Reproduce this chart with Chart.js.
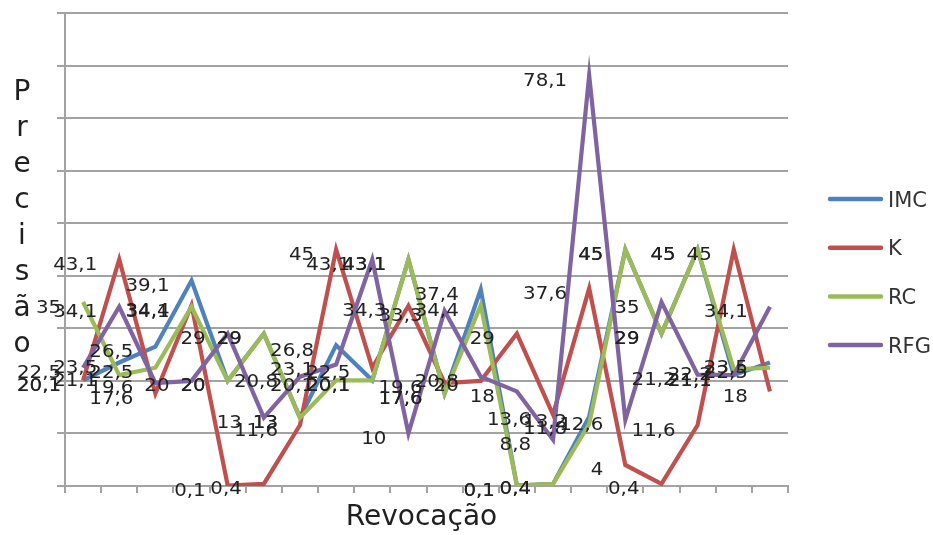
<!DOCTYPE html>
<html>
<head>
<meta charset="utf-8">
<title>Precisão x Revocação</title>
<script src="https://cdn.jsdelivr.net/npm/chart.js@4.4.1/dist/chart.umd.min.js"></script>
<style>
  html, body { margin: 0; padding: 0; background: #ffffff; }
  #wrap { position: relative; width: 933px; height: 535px; }
</style>
</head>
<body>
<div id="wrap"><canvas id="chart" width="933" height="535"></canvas></div>
<script>
// Recall steps along the x axis (no visible tick labels)
const categories = ['1', '2', '3', '4', '5', '6', '7', '8', '9', '10',
                    '11', '12', '13', '14', '15', '16', '17', '18', '19', '20'];

// Precision values per method
const imc = [20.1, 23.5, 26.5, 39.1, 20, 29, 13, 26.8, 20.1, 43.1,
             17.6, 37.4, 0.1, 0.4, 13.2, 45, 29, 45, 21.1, 23.5];
const k   = [20.1, 43.1, 17.6, 34.4, 0.1, 0.4, 11.6, 45, 22.5, 34.3,
             19.6, 20, 29, 13.6, 37.6, 4, 0.4, 11.6, 45, 18];
const rc  = [35, 21.1, 22.5, 34.1, 20, 29, 13, 20.1, 20.1, 43.1,
             17.6, 34.4, 0.1, 0.4, 11.8, 45, 29, 45, 22.2, 22.5];
const rfg = [22.5, 34.1, 19.6, 20, 29, 13, 20.8, 23.1, 43.1, 10,
             33.3, 20.8, 18, 8.8, 78.1, 12.6, 35, 21.2, 21.1, 34.1];

const seriesNames = ['IMC', 'K', 'RC', 'RFG'];
const yTicks = [0, 10, 20, 30, 40, 50, 60, 70, 80, 90];

const xTitle = 'Revocação';
const yTitle = 'Precisão';

const colors = ['#4F81BD', '#C0504D', '#9BBB59', '#8064A2'];
const gridColor = '#a3a3a3';

// Data labels: value written to the left of each point, comma as decimal mark
const valueLabels = {
  id: 'valueLabels',
  afterDatasetsDraw(chart) {
    const ctx = chart.ctx;
    ctx.save();
    ctx.font = '18px "DejaVu Sans"';
    ctx.fillStyle = '#222222';
    ctx.textAlign = 'right';
    ctx.textBaseline = 'alphabetic';
    chart.data.datasets.forEach((ds, i) => {
      const meta = chart.getDatasetMeta(i);
      meta.data.forEach((pt, j) => {
        const txt = String(ds.data[j]).replace('.', ',');
        ctx.save();
        ctx.translate(pt.x - 22, pt.y + 10.5);
        ctx.scale(1.1, 1);
        ctx.fillText(txt, 0, 0);
        ctx.restore();
      });
    });
    ctx.restore();
  }
};

// Axis titles (the y title is stacked letter by letter) and the legend
const decorations = {
  id: 'decorations',
  afterDraw(chart) {
    const ctx = chart.ctx;
    const area = chart.chartArea;
    ctx.save();
    ctx.fillStyle = '#1f1f1f';
    ctx.font = '28px "DejaVu Sans"';
    ctx.textAlign = 'center';
    ctx.textBaseline = 'alphabetic';
    ctx.fillText(xTitle, (area.left + area.right) / 2 - 5, 525);
    Array.from(yTitle).forEach((ch, i) => {
      ctx.fillText(ch, 22, 100 + i * 36);
    });

    // legend
    ctx.font = '21px "DejaVu Sans"';
    ctx.textAlign = 'left';
    ctx.fillStyle = '#333333';
    chart.data.datasets.forEach((ds, i) => {
      const y = 199 + i * 48.7;
      ctx.strokeStyle = ds.borderColor;
      ctx.lineWidth = 4.5;
      ctx.lineCap = 'round';
      ctx.beginPath();
      ctx.moveTo(830, y);
      ctx.lineTo(881, y);
      ctx.stroke();
      ctx.fillText(ds.label, 888, y + 7.5);
    });
    ctx.restore();
  }
};

const seriesData = [imc, k, rc, rfg];
const datasets = seriesData.map((vals, i) => ({
  label: seriesNames[i],
  data: vals,
  borderColor: colors[i],
  backgroundColor: colors[i],
  borderWidth: 4.2,
  pointRadius: 0,
  pointHoverRadius: 0,
  tension: 0,
  fill: false,
  borderJoinStyle: 'miter',
  order: 4 - i
}));

new Chart(document.getElementById('chart'), {
  type: 'line',
  data: { labels: categories, datasets: datasets },
  options: {
    responsive: false,
    animation: false,
    events: [],
    layout: { padding: { left: 57, right: 145, top: 13, bottom: 42 } },
    plugins: {
      legend: { display: false },
      tooltip: { enabled: false },
      title: { display: false }
    },
    scales: {
      x: {
        type: 'category',
        offset: true,
        ticks: { display: false },
        grid: {
          offset: true,
          drawOnChartArea: false,
          drawTicks: true,
          tickLength: 7,
          color: gridColor,
          lineWidth: 2
        },
        border: { display: true, color: gridColor, width: 2 }
      },
      y: {
        min: yTicks[0],
        max: yTicks[yTicks.length - 1],
        afterBuildTicks(scale) {
          scale.ticks = yTicks.map(v => ({ value: v }));
        },
        ticks: { display: false },
        grid: {
          drawTicks: true,
          tickLength: 8,
          color: gridColor,
          lineWidth: 2
        },
        border: { display: true, color: gridColor, width: 2 }
      }
    }
  },
  plugins: [valueLabels, decorations]
});
</script>
</body>
</html>
